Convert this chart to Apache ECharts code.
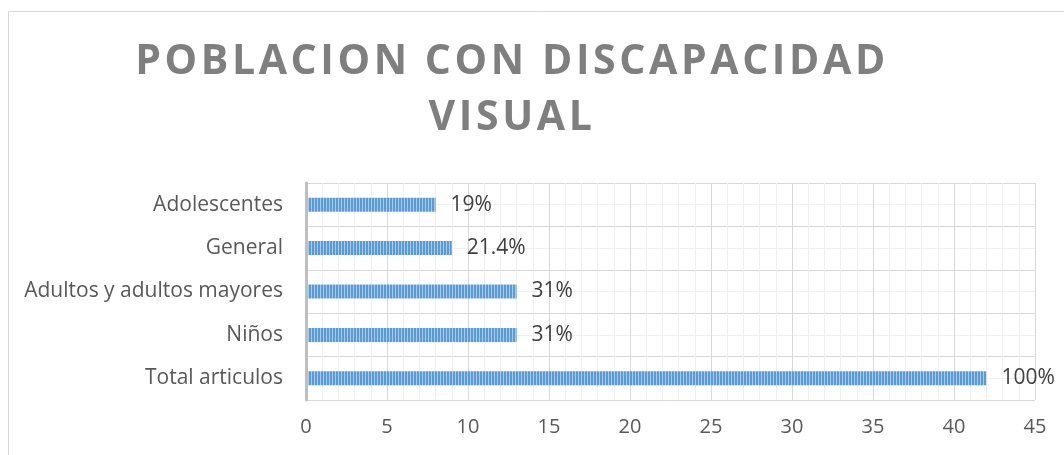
<!DOCTYPE html>
<html>
<head>
    <meta charset="utf-8"/>
    <title>Poblacion con discapacidad visual</title>
    <script src="https://cdn.jsdelivr.net/npm/echarts@6/dist/echarts.min.js"></script>
    <style>
        html, body { margin: 0; padding: 0; background: #fff; }
        #chart { width: 1064px; height: 455px; }
    </style>
</head>
<body>
<div id="chart"></div>
<script>
    // datos (de abajo hacia arriba)
    var categorias = ['Total articulos', 'Niños', 'Adultos y adultos mayores', 'General', 'Adolescentes'];
    var valores = [42, 13, 13, 9, 8];
    var etiquetas = ['100%', '31%', '31%', '21.4%', '19%'];
    var tituloTexto = 'POBLACION CON DISCAPACIDAD\nVISUAL';

    // espaciado entre letras solo para el titulo (canvas letterSpacing)
    var fillTextOrig = CanvasRenderingContext2D.prototype.fillText;
    CanvasRenderingContext2D.prototype.fillText = function () {
        this.letterSpacing = this.font.indexOf('41px') >= 0 ? '3.6px' : '0px';
        return fillTextOrig.apply(this, arguments);
    };

    // trama de rayas verticales para las barras
    var trama = document.createElement('canvas');
    trama.width = 3;
    trama.height = 4;
    var ctx = trama.getContext('2d');
    ctx.fillStyle = '#5b9bd5';
    ctx.fillRect(0, 0, 2, 4);
    ctx.fillStyle = '#a9cbeb';
    ctx.fillRect(2, 0, 1, 4);

    var myChart = echarts.init(document.getElementById('chart'));
    var option = {
        animation: false,
        graphic: [{
            type: 'rect',
            shape: { x: 8.5, y: 11.5, width: 1200, height: 600 },
            style: { fill: 'none', stroke: '#d9d9d9', lineWidth: 1 },
            silent: true
        }, {
            type: 'text',
            x: 512,
            y: 34,
            style: {
                text: tituloTexto,
                textAlign: 'center',
                fill: '#7f7f7f',
                font: 'bold 41px "Open Sans"',
                lineHeight: 56
            }
        }],
        grid: { left: 306, right: 29, top: 183, bottom: 55 },
        xAxis: {
            type: 'value',
            min: 0,
            max: 45,
            interval: 5,
            axisLine: { show: false },
            axisTick: { show: false },
            axisLabel: { color: '#595959', fontSize: 20, fontFamily: 'Open Sans', margin: 17 },
            splitLine: { lineStyle: { color: '#d9d9d9' } },
            minorTick: { show: false, splitNumber: 5 },
            minorSplitLine: { show: true, lineStyle: { color: '#f0f0f0' } }
        },
        yAxis: [{
            type: 'category',
            data: categorias,
            axisLine: { show: true, lineStyle: { color: '#bfbfbf', width: 3 } },
            axisTick: { show: false },
            axisLabel: { color: '#595959', fontSize: 21, fontFamily: 'Open Sans', margin: 23 },
            splitLine: { show: false },
            z: 3
        }, {
            type: 'value',
            min: 0,
            max: 5,
            interval: 0.5,
            position: 'right',
            axisLine: { show: false },
            axisTick: { show: false },
            axisLabel: { show: false },
            splitLine: { lineStyle: { color: ['#d9d9d9', '#f0f0f0'] } }
        }],
        series: [{
            type: 'bar',
            data: valores,
            barWidth: 14,
            itemStyle: { color: { image: trama, repeat: 'repeat' } },
            label: {
                show: true,
                position: 'right',
                distance: 15,
                color: '#404040',
                fontSize: 21,
                fontFamily: 'Open Sans',
                formatter: function (p) { return etiquetas[p.dataIndex]; }
            }
        }]
    };
    myChart.setOption(option);
</script>
</body>
</html>
